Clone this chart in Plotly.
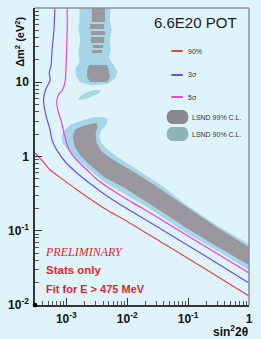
import plotly.graph_objects as go

# ---------------- data (sin^2 2theta, delta m^2 in eV^2) ----------------
# exclusion curves
red90_s = [3.06e-4, 4.07e-4, 5.42e-4, 6.97e-4, 1.43e-3, 4.65e-3, 8.54e-3, 3.58e-2, 0.150, 1.0]
red90_m = [1.11, 0.870, 0.658, 0.563, 0.365, 0.190, 0.144, 0.0706, 0.0346, 0.0132]

blue3s_s = [6.48e-4, 6.26e-4, 5.82e-4, 5.62e-4, 5.23e-4, 5.42e-4, 4.53e-4, 4.22e-4, 4.37e-4, 4.70e-4,
            5.42e-4, 5.82e-4, 6.97e-4, 9.97e-4, 1.43e-3, 2.27e-3, 4.17e-3, 9.51e-3, 3.58e-2, 0.150, 1.0]
blue3s_m = [100, 50.5, 27.2, 17.1, 13.3, 10.7, 7.86, 5.77, 4.50, 3.40,
            2.27, 1.67, 1.22, 0.818, 0.618, 0.453, 0.313, 0.202, 0.1056, 0.0517, 0.0198]

mag5s_s = [1.033e-3, 1.033e-3, 9.97e-4, 9.61e-4, 8.64e-4, 7.76e-4, 6.97e-4, 7.22e-4, 8.33e-4, 9.28e-4,
           1.109e-3, 1.327e-3, 1.587e-3, 2.19e-3, 3.25e-3, 8.54e-3, 1.748e-2, 7.32e-2, 0.307, 1.0]
mag5s_m = [100, 50.5, 19.9, 10.7, 7.86, 7.16, 5.77, 4.23, 2.91, 1.95,
           1.22, 0.985, 0.843, 0.658, 0.483, 0.285, 0.202, 0.0992, 0.0486, 0.0270]

# LSND outer (light blue) regions
lsnd_out_main_s = [8.33e-4, 9.28e-4, 1.235e-3, 1.898e-3, 2.917e-3, 4.17e-3, 4.815e-3, 4.483e-3, 3.749e-3,
                   3.49e-3, 3.749e-3, 4.646e-3, 6.41e-3, 1.022e-2, 1.748e-2, 3.578e-2, 9.41e-2, 0.307,
                   1.0, 1.0, 0.307, 9.41e-2, 3.578e-2, 1.748e-2, 8.54e-3, 4.17e-3, 2.44e-3, 1.531e-3,
                   1.07e-3, 8.64e-4]
lsnd_out_main_m = [1.83, 2.27, 2.74, 3.10, 3.40, 3.40, 3.10, 2.66, 2.27,
                   1.89, 1.52, 1.26, 1.02, 0.793, 0.599, 0.413, 0.222, 0.1159,
                   0.0663, 0.0296, 0.0534, 0.0933, 0.158, 0.229, 0.322, 0.453, 0.658, 0.897,
                   1.22, 1.52]

lsnd_out_top_s = [1.645e-3, 5.361e-3, 5.172e-3, 5.556e-3, 5.172e-3, 5.361e-3, 4.991e-3, 5.97e-3, 6.89e-3,
                  6.41e-3, 4.815e-3, 2.529e-3, 1.645e-3, 1.426e-3, 1.426e-3, 1.645e-3, 1.587e-3,
                  1.705e-3, 1.587e-3, 1.645e-3]
lsnd_out_top_m = [100, 100, 68.9, 50.5, 37.1, 27.2, 21.2, 17.1, 13.7,
                  11.4, 9.47, 9.18, 10.1, 12.5, 15.6, 18.7, 27.2,
                  37.1, 50.5, 68.9]

lsnd_out_blob_s = [1.587e-3, 1.767e-3, 2.271e-3, 2.917e-3, 3.617e-3, 3.49e-3, 2.716e-3, 2.039e-3, 1.645e-3]
lsnd_out_blob_m = [5.95, 6.73, 7.39, 7.86, 7.86, 7.16, 6.53, 5.95, 5.77]

# LSND inner (gray) regions
lsnd_in_main_s = [1.28e-3, 1.375e-3, 1.705e-3, 2.44e-3, 3.134e-3, 3.248e-3, 3.024e-3, 3.134e-3, 3.749e-3,
                  4.991e-3, 7.67e-3, 1.222e-2, 2.501e-2, 9.41e-2, 0.307, 1.0,
                  1.0, 0.307, 9.41e-2, 2.501e-2, 8.54e-3, 4.17e-3, 2.44e-3, 1.705e-3, 1.375e-3]
lsnd_in_main_m = [1.83, 2.27, 2.50, 2.74, 2.83, 2.50, 2.07, 1.52, 1.19,
                  0.985, 0.793, 0.638, 0.440, 0.209, 0.1089, 0.0604,
                  0.0346, 0.0604, 0.1089, 0.222, 0.388, 0.530, 0.768, 1.02, 1.34]

lsnd_in_blob_s = [2.353e-3, 4.646e-3, 4.991e-3, 5.172e-3, 4.646e-3, 2.44e-3, 2.191e-3, 2.191e-3]
lsnd_in_blob_m = [17.1, 17.1, 14.6, 11.4, 10.1, 10.1, 11.8, 14.6]

# gray horizontal stripes at high delta m^2
stripe_s_lo = [2.621e-3, 2.44e-3, 2.529e-3, 2.529e-3, 2.716e-3, 2.621e-3]
stripe_s_hi = [4.325e-3, 4.17e-3, 4.325e-3, 4.17e-3, 4.027e-3, 3.885e-3]
stripe_m_lo = [64.8, 52.1, 43.3, 33.8, 28.9, 24.8]
stripe_m_hi = [100, 60.9, 49.0, 40.7, 31.7, 27.2]

x_tickvals = [1e-3, 1e-2, 1e-1, 1]
x_ticktext = ["<b>10<sup>-3</sup></b>", "<b>10<sup>-2</sup></b>", "<b>10<sup>-1</sup></b>", "<b>1</b>"]
y_tickvals = [1e-2, 1e-1, 1, 10, 100]
y_ticktext = ["<b>10<sup>-2</sup></b>", "<b>10<sup>-1</sup></b>", "<b>1</b>", "<b>10</b>", "<b>10<sup>2</sup></b>"]

legend_labels = ["90%", "3σ", "5σ", "LSND 99% C.L.", "LSND 90% C.L."]

# ---------------- styles ----------------
BG = "#dff3fb"
C_OUT = "#a5d5e6"
C_IN = "#9a989e"
C_RED = "#e8434b"
C_BLUE = "#6b4ef2"
C_MAG = "#ee3cf0"
C_TXT_RED = "#e3262e"
SANS = "Liberation Sans, Arial, Helvetica, sans-serif"

fig = go.Figure()

def region(s, m, color):
    fig.add_trace(go.Scatter(x=s, y=m, mode="lines", fill="toself", fillcolor=color,
                             line=dict(width=0, color=color), hoverinfo="skip", showlegend=False))

region(lsnd_out_main_s, lsnd_out_main_m, C_OUT)
region(lsnd_out_top_s, lsnd_out_top_m, C_OUT)
region(lsnd_out_blob_s, lsnd_out_blob_m, C_OUT)
region(lsnd_in_main_s, lsnd_in_main_m, C_IN)
region(lsnd_in_blob_s, lsnd_in_blob_m, C_IN)
for a, b, c, d in zip(stripe_s_lo, stripe_s_hi, stripe_m_lo, stripe_m_hi):
    region([a, b, b, a], [c, c, d, d], C_IN)

for s, m, col in [(red90_s, red90_m, C_RED), (blue3s_s, blue3s_m, C_BLUE), (mag5s_s, mag5s_m, C_MAG)]:
    fig.add_trace(go.Scatter(x=s, y=m, mode="lines", line=dict(color=col, width=1.2, shape="spline", smoothing=0.6),
                             hoverinfo="skip", showlegend=False))

def minor_vals(decades):
    return [k * 10 ** d for d in decades for k in range(2, 10)]

fig.update_layout(
    width=261, height=339, autosize=False,
    margin=dict(l=27, r=8, t=8, b=34),
    paper_bgcolor=BG, plot_bgcolor=BG,
    font=dict(family=SANS, color="#111"),
    xaxis=dict(type="log", range=[-3.515, 0], showgrid=False, zeroline=False,
               tickmode="array", tickvals=x_tickvals, ticktext=x_ticktext,
               ticks="inside", ticklen=7, tickwidth=1, tickcolor="#333",
               showline=True, linecolor="#333", linewidth=1.5,
               tickfont=dict(size=12, family=SANS, color="#111"), ticklabelstandoff=2,
               minor=dict(tickvals=minor_vals([-4, -3, -2, -1]), ticks="inside", ticklen=4,
                          tickcolor="#555", tickwidth=1)),
    yaxis=dict(type="log", range=[-2, 2], showgrid=False, zeroline=False,
               tickmode="array", tickvals=y_tickvals, ticktext=y_ticktext,
               ticks="inside", ticklen=7, tickwidth=1, tickcolor="#333",
               showline=True, linecolor="#333", linewidth=1.5,
               tickfont=dict(size=12, family=SANS, color="#111"), ticklabelstandoff=2,
               minor=dict(tickvals=minor_vals([-2, -1, 0, 1]), ticks="inside", ticklen=4,
                          tickcolor="#555", tickwidth=1)),
)

def px(xp):
    return (xp - 27) / 226.0

def py(yp):
    return 1 - (yp - 8) / 297.0

shapes = [
    dict(type="line", xref="paper", yref="paper", x0=0, x1=1, y0=1, y1=1, line=dict(color="#8c8c9c", width=1.5)),
    dict(type="line", xref="paper", yref="paper", x0=1, x1=1, y0=0, y1=1, line=dict(color="#8c8c9c", width=1.5)),
    dict(type="circle", xref="paper", yref="paper", xsizemode="pixel", ysizemode="pixel",
         xanchor=0, yanchor=0, x0=-2.3, x1=2.3, y0=-2.3, y1=2.3, fillcolor="#000", line=dict(width=0)),
]
# legend swatches
for ypix, col in [(51, C_RED), (75, C_BLUE), (97, C_MAG)]:
    shapes.append(dict(type="line", xref="paper", yref="paper", x0=px(171), x1=px(183), y0=py(ypix), y1=py(ypix),
                       line=dict(color=col, width=2)))
for ypix, col in [(117, "#8a888e"), (134, "#8fb4b7")]:
    shapes.append(dict(type="rect", xref="paper", yref="paper", x0=px(171), x1=px(184), y0=py(ypix + 7), y1=py(ypix - 7),
                       fillcolor=col, line=dict(width=0), layer="above"))
fig.update_layout(shapes=shapes)
# round ends of the oval swatches
for ypix, col in [(117, "#8a888e"), (134, "#8fb4b7")]:
    fig.add_shape(type="circle", xref="paper", yref="paper", x0=px(166), x1=px(178), y0=py(ypix + 7), y1=py(ypix - 7),
                  fillcolor=col, line=dict(width=0), layer="above")
    fig.add_shape(type="circle", xref="paper", yref="paper", x0=px(177), x1=px(189), y0=py(ypix + 7), y1=py(ypix - 7),
                  fillcolor=col, line=dict(width=0), layer="above")

ann = []
ann.append(dict(text="6.6E20 POT", x=px(196), y=py(22), xref="paper", yref="paper", showarrow=False,
                font=dict(size=15, family=SANS, color="#1a1a1a"), xanchor="center", yanchor="middle"))
for ypix, lab in zip([51, 75, 97, 117, 134], legend_labels):
    xl = 186 if ypix < 110 else 191
    ann.append(dict(text=lab, x=px(xl), y=py(ypix), xref="paper", yref="paper", showarrow=False,
                    font=dict(size=7, family=SANS, color="#333"), xanchor="left", yanchor="middle"))
ann.append(dict(text="<i>PRELIMINARY</i>", x=px(35), y=py(252), xref="paper", yref="paper", showarrow=False,
                font=dict(size=12, family="Liberation Serif, Times New Roman, serif", color=C_TXT_RED),
                xanchor="left", yanchor="middle"))
ann.append(dict(text="<b>Stats only</b>", x=px(36), y=py(270), xref="paper", yref="paper", showarrow=False,
                font=dict(size=11.5, family=SANS, color=C_TXT_RED), xanchor="left", yanchor="middle"))
ann.append(dict(text="<b>Fit for E > 475 MeV</b>", x=px(36), y=py(289), xref="paper", yref="paper", showarrow=False,
                font=dict(size=11, family=SANS, color=C_TXT_RED), xanchor="left", yanchor="middle"))
ann.append(dict(text="<b>Δm<sup>2</sup> (eV<sup>2</sup>)</b>", x=px(11), y=py(42), xref="paper", yref="paper",
                showarrow=False, textangle=-90, font=dict(size=11, family=SANS, color="#111"),
                xanchor="center", yanchor="middle"))
ann.append(dict(text="<b>sin<sup>2</sup>2θ</b>", x=px(254), y=py(331), xref="paper", yref="paper", showarrow=False,
                font=dict(size=12, family=SANS, color="#111"), xanchor="right", yanchor="middle"))
fig.update_layout(annotations=ann)

fig.write_html("out.html", config={"displayModeBar": False},
               post_script="document.body.style.margin='0';document.body.style.overflow='hidden';")
